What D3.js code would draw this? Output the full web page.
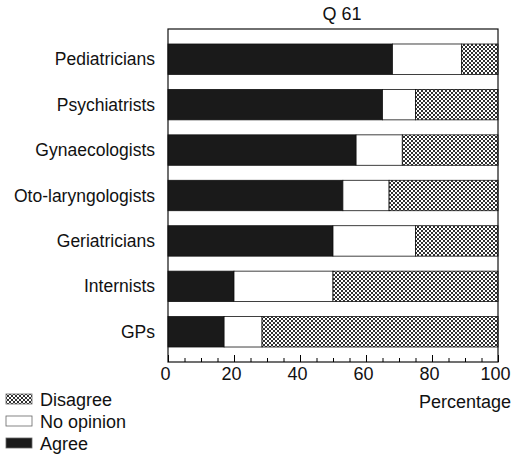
<!DOCTYPE html>
<html>
<head>
<meta charset="utf-8">
<script src="https://cdn.jsdelivr.net/npm/d3@7"></script>
<style>
  body { margin: 0; background: #fff; }
  text { font-family: "Liberation Sans", Arial, sans-serif; fill: #111; }
</style>
</head>
<body>
<div id="chart"></div>
<script>
// data
var groups = ["Pediatricians", "Psychiatrists", "Gynaecologists", "Oto-laryngologists", "Geriatricians", "Internists", "GPs"];
var agree     = [68, 65, 57, 53, 50, 20, 17];
var noOpinion = [21, 10, 14, 14, 25, 30, 11.5];
var disagree  = [11, 25, 29, 33, 25, 50, 71.5];
var subgroups = ["agree", "noOpinion", "disagree"];
var legendLabels = ["Disagree", "No opinion", "Agree"];
var xTicks = [0, 20, 40, 60, 80, 100];

var margin = {top: 29, left: 168, right: 14, bottom: 99},
    W = 512, H = 461,
    width = W - margin.left - margin.right,
    height = H - margin.top - margin.bottom;

var svg = d3.select("#chart").append("svg")
    .attr("width", W).attr("height", H);

// crosshatch pattern for "Disagree"
var defs = svg.append("defs");
var pat = defs.append("pattern")
    .attr("id", "hatch")
    .attr("patternUnits", "userSpaceOnUse")
    .attr("width", 4).attr("height", 4);
pat.append("rect").attr("width", 4).attr("height", 4).attr("fill", "#fff");
pat.append("path")
    .attr("d", "M0,0 L4,4 M4,0 L0,4 M-1,3 L1,5 M3,-1 L5,1 M-1,1 L1,-1 M3,5 L5,3")
    .attr("stroke", "#1a1a1a").attr("stroke-width", 0.9);

var color = {agree: "#1a1a1a", noOpinion: "#fff", disagree: "url(#hatch)"};

var g = svg.append("g").attr("transform", "translate(" + margin.left + "," + margin.top + ")");

var x = d3.scaleLinear().domain([0, 100]).range([0, width]);
var y = d3.scaleBand().domain(groups).range([0, height]).paddingInner(0.33).paddingOuter(0.33);

var data = groups.map(function(d, i) {
  return {group: d, agree: agree[i], noOpinion: noOpinion[i], disagree: disagree[i]};
});
var stacked = d3.stack().keys(subgroups)(data);

g.append("g").selectAll("g")
  .data(stacked)
  .enter().append("g")
    .attr("fill", function(d) { return color[d.key]; })
  .selectAll("rect")
  .data(function(d) { return d; })
  .enter().append("rect")
    .attr("x", function(d) { return x(d[0]); })
    .attr("y", function(d) { return y(d.data.group); })
    .attr("width", function(d) { return x(d[1]) - x(d[0]); })
    .attr("height", y.bandwidth())
    .attr("stroke", "#111")
    .attr("stroke-width", 0.8);

// frame
g.append("rect")
  .attr("width", width).attr("height", height)
  .attr("fill", "none").attr("stroke", "#111").attr("stroke-width", 1.2);

// minor ticks (inward)
g.append("g")
  .attr("transform", "translate(0," + height + ")")
  .call(d3.axisBottom(x).ticks(20).tickSize(-4).tickFormat(""))
  .call(function(a) { a.select(".domain").remove(); });

// major ticks + labels
var xAxis = g.append("g")
  .attr("transform", "translate(0," + height + ")")
  .call(d3.axisBottom(x).tickValues(xTicks).tickSizeInner(-7).tickSizeOuter(0).tickPadding(5));
xAxis.select(".domain").remove();
xAxis.selectAll("text")
  .attr("dx", -3)
  .style("font-size", "18px")
  .style("font-family", "'Liberation Sans', Arial, sans-serif")
  .attr("fill", "#111");

// category labels
g.append("g").selectAll("text")
  .data(groups)
  .enter().append("text")
    .attr("x", -13)
    .attr("y", function(d) { return y(d) + y.bandwidth() / 2; })
    .attr("dy", "0.35em")
    .attr("text-anchor", "end")
    .style("font-size", "17.5px")
    .text(function(d) { return d; });

// title
svg.append("text")
  .attr("x", 342)
  .attr("y", 20)
  .attr("text-anchor", "middle")
  .style("font-size", "18px")
  .text("Q 61");

// axis label
svg.append("text")
  .attr("x", 511)
  .attr("y", 408)
  .attr("text-anchor", "end")
  .style("font-size", "18px")
  .text("Percentage");

// legend
var legendFill = ["url(#hatch)", "#fff", "#1a1a1a"];
var lg = svg.append("g").selectAll("g")
  .data(legendLabels)
  .enter().append("g")
    .attr("transform", function(d, i) { return "translate(6," + (394 + i * 22) + ")"; });
lg.append("rect")
  .attr("width", 26).attr("height", 10)
  .attr("fill", function(d, i) { return legendFill[i]; })
  .attr("stroke", "#666").attr("stroke-width", 0.8);
lg.append("text")
  .attr("x", 34).attr("y", 12)
  .style("font-size", "18px")
  .text(function(d) { return d; });
</script>
</body>
</html>
